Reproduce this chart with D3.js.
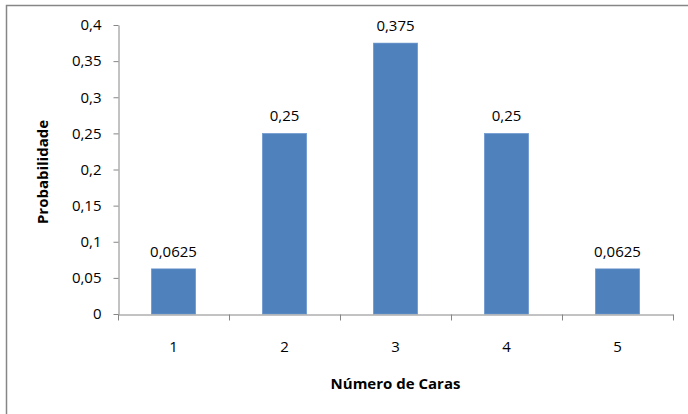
<!DOCTYPE html>
<html lang="pt">
<head>
<meta charset="UTF-8">
<title>Probabilidade</title>
<script src="https://d3js.org/d3.v7.min.js"></script>
<style>
  body { margin: 0; background: #fff; }
  text { font-family: "Open Sans", Lato, sans-serif; fill: #000; }
</style>
</head>
<body>
<div id="chart"></div>
<script>
var categories = ["1", "2", "3", "4", "5"];
var values = [0.0625, 0.25, 0.375, 0.25, 0.0625];
var valueLabels = ["0,0625", "0,25", "0,375", "0,25", "0,0625"];
var yTicks = [0, 0.05, 0.1, 0.15, 0.2, 0.25, 0.3, 0.35, 0.4];

var W = 688, H = 414;
var margin = {top: 25, right: 15, bottom: 100, left: 118};
var width = 673 - margin.left,
    height = 314 - margin.top;
var fs = "15px";

var svg = d3.select("#chart").append("svg")
  .attr("width", W).attr("height", H);

// chart border (cut off at right and bottom)
svg.append("rect")
  .attr("x", 6.5).attr("y", 5.5)
  .attr("width", W + 10).attr("height", H + 10)
  .attr("fill", "none").attr("stroke", "#868686").attr("stroke-width", 1.5);

var g = svg.append("g")
  .attr("transform", "translate(" + margin.left + "," + margin.top + ")");

var x = d3.scaleBand().domain(categories).range([0, width]).paddingInner(0.6).paddingOuter(0.3);
var y = d3.scaleLinear().domain([0, 0.4]).range([height, 0]);

var fmt = function(d) { return String(d).replace(".", ","); };

// y axis
var yAxis = g.append("g")
  .attr("transform", "translate(0.5,0)")
  .call(d3.axisLeft(y).tickValues(yTicks).tickSize(5).tickSizeOuter(0).tickFormat(fmt).tickPadding(12));
yAxis.selectAll("line, path").attr("stroke", "#868686");
yAxis.selectAll("text").style("font-size", fs).style("font-family", "'Open Sans', sans-serif");

// bars
g.selectAll(".bar").data(values).enter().append("rect")
  .attr("class", "bar")
  .attr("x", function(d, i) { return x(categories[i]); })
  .attr("y", function(d) { return y(d); })
  .attr("width", x.bandwidth())
  .attr("height", function(d) { return height - y(d); })
  .attr("fill", "#4F81BD")
  .attr("stroke", "#6F9AD0").attr("stroke-width", 0.6);

// data labels
g.selectAll(".lbl").data(values).enter().append("text")
  .attr("class", "lbl")
  .attr("x", function(d, i) { return x(categories[i]) + x.bandwidth() / 2; })
  .attr("y", function(d) { return y(d) - 12; })
  .attr("text-anchor", "middle")
  .style("font-size", fs)
  .text(function(d, i) { return valueLabels[i]; });

// x axis with ticks between categories
var xEdges = d3.scaleLinear().domain([0, categories.length]).range([0, width]);
var xAxis = g.append("g")
  .attr("transform", "translate(0," + (height + 0.5) + ")")
  .call(d3.axisBottom(xEdges).tickValues(d3.range(categories.length + 1)).tickSize(6).tickSizeOuter(0).tickFormat(""));
xAxis.selectAll("line, path").attr("stroke", "#868686");

g.selectAll(".cat").data(categories).enter().append("text")
  .attr("class", "cat")
  .attr("x", function(d) { return x(d) + x.bandwidth() / 2; })
  .attr("y", height + 38)
  .attr("text-anchor", "middle")
  .style("font-size", fs)
  .text(function(d) { return d; });

// axis titles
svg.append("text")
  .attr("x", margin.left + width / 2).attr("y", 389)
  .attr("text-anchor", "middle")
  .style("font-size", fs).style("font-weight", "bold")
  .text("Número de Caras");

svg.append("text")
  .attr("transform", "translate(48,172) rotate(-90)")
  .attr("text-anchor", "middle")
  .style("font-size", fs).style("font-weight", "bold")
  .text("Probabilidade");
</script>
</body>
</html>
